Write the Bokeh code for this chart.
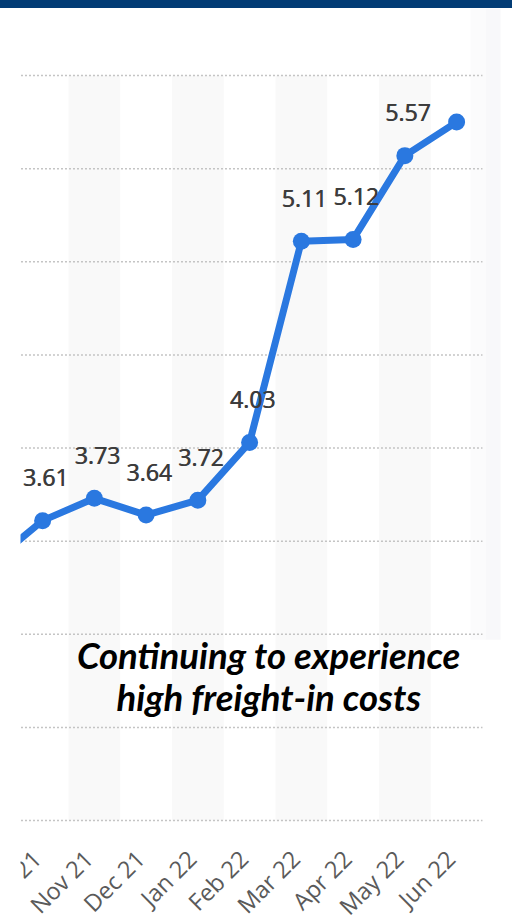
import math
from bokeh.plotting import figure
from bokeh.models import ColumnDataSource, Range1d, Label, Div
from bokeh.layouts import column
from bokeh.embed import file_html
from bokeh.resources import INLINE
from bokeh.core.properties import value

# ---- data ----
months = ["Sep 21", "Oct 21", "Nov 21", "Dec 21", "Jan 22", "Feb 22",
          "Mar 22", "Apr 22", "May 22", "Jun 22"]
values = [3.38, 3.61, 3.73, 3.64, 3.72, 4.03, 5.11, 5.12, 5.57, 5.75]
value_labels = ["", "3.61", "3.73", "3.64", "3.72", "4.03",
                "5.11", "5.12", "5.57", ""]
grid_values = [2.0, 2.5, 3.0, 3.5, 4.0, 4.5, 5.0, 5.5, 6.0]
annotation_lines = ["Continuing to experience", "high freight-in costs"]

# ---- layout constants ----
X_START, X_END = 0.573, 10.08
Y_START, Y_END = 1.4577, 6.36
TICK_LABEL_Y = 1.791
BLUE = "#2a78e0"

idx = list(range(len(months)))
src = ColumnDataSource(dict(x=idx, y=values, lab=value_labels))
vis = [i for i in idx if i >= X_START]
tick_src = ColumnDataSource(dict(x=vis, y=[TICK_LABEL_Y] * len(vis),
                                 t=[months[i] for i in vis]))

p = figure(width=512, height=913, output_backend="svg", toolbar_location=None,
           x_range=Range1d(X_START, X_END), y_range=Range1d(Y_START, Y_END),
           min_border_left=20, min_border_right=0, min_border_top=0,
           min_border_bottom=0)
p.outline_line_color = None
p.background_fill_color = "white"
p.border_fill_color = "white"
p.xgrid.visible = False
p.ygrid.visible = False
p.xaxis.visible = False
p.yaxis.visible = False

# faint right-edge shading
p.quad(left=[9.27, 9.56], right=[9.56, 9.85], bottom=[2.97, 2.97], top=[Y_END, Y_END],
       fill_color=["#fbfbfc", "#f8f8fa"], line_color=None)

# alternating bands
band_x = [i for i in idx if i % 2 == 0]
p.quad(left=[i - 0.5 for i in band_x], right=[i + 0.5 for i in band_x],
       bottom=[grid_values[0]] * len(band_x), top=[grid_values[-1]] * len(band_x),
       fill_color="#f9f9f9", line_color=None)

# dotted gridlines
p.segment(x0=[idx[0] - 0.5] * len(grid_values), x1=[idx[-1] + 0.5] * len(grid_values),
          y0=grid_values, y1=grid_values, line_color="#c4c4c4",
          line_width=1.5, line_dash="2 2")

# line + markers
p.line("x", "y", source=src, line_color=BLUE, line_width=7, line_join="round")
p.scatter("x", "y", source=src, size=17, fill_color=BLUE, line_color=None)

# data labels (drawn twice, half a pixel apart, for a semibold look)
for dx in (3, 3.6):
    p.text("x", "y", text="lab", source=src, text_align="center",
           text_baseline="alphabetic", x_offset=dx, y_offset=-43,
           text_font=value("Open Sans"), text_font_size="23px",
           text_color="#3c3c3c")

# category labels (rotated)
p.text("x", "y", text="t", source=tick_src, angle=math.pi / 4,
       text_align="right", text_baseline="middle", x_offset=-6, y_offset=-5,
       text_font=value("Open Sans"), text_font_size="23.5px",
       text_color="#5a5a5a")

# annotation
for k, line in enumerate(annotation_lines):
    p.add_layout(Label(x=5.37, y=2.891 - k * 0.2255, text=line,
                       text_align="center", text_baseline="alphabetic",
                       text_font="Lato", text_font_size="36.5px",
                       text_font_style="bold italic", text_color="black"))

bar = Div(text="", width=512, height=8, margin=0,
          styles={"background-color": "#023c75"})
layout = column(bar, p, spacing=0)

open("out.html", "w").write(file_html(layout, INLINE))
